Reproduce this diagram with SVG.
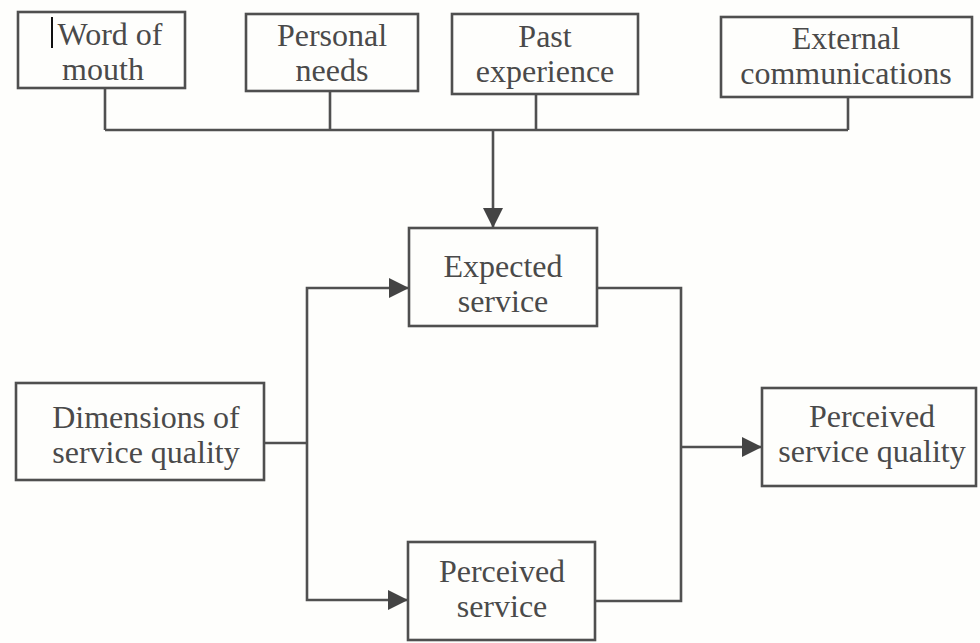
<svg xmlns="http://www.w3.org/2000/svg" width="980" height="643" viewBox="0 0 980 643">
  <defs>
    <style>
      .box { fill: #fefefc; stroke: #4f4f4f; stroke-width: 2.6; }
      .lbl { font-family: "Liberation Serif", "Times New Roman", serif; font-size: 32px; fill: #4a4a4a; text-anchor: middle; }
      .wire { fill: none; stroke: #505050; stroke-width: 2.6; }
    </style>
    <marker id="tip" viewBox="0 0 20 20" refX="20" refY="10" markerWidth="20" markerHeight="20" markerUnits="userSpaceOnUse" orient="auto">
      <path d="M0,0 L20,10 L0,20 Z" fill="#444"/>
    </marker>
  </defs>

  <rect width="980" height="643" fill="#fefefc"/>

  <!-- connectors -->
  <g id="connectors">
    <!-- the four input stems joined by a common bus -->
    <path class="wire" d="M105,88 V130 M330,91 V130 M536,94 V130 M848,97 V130 M105,130 H848"/>
    <path class="wire" d="M493,130 V228" marker-end="url(#tip)"/>
    <!-- dimensions splitting to expected and perceived service -->
    <path class="wire" d="M264,443 H307"/>
    <path class="wire" d="M307,443 V288 H409" marker-end="url(#tip)"/>
    <path class="wire" d="M307,443 V600 H408" marker-end="url(#tip)"/>
    <!-- expected and perceived service merging into perceived quality -->
    <path class="wire" d="M597,288 H681 V601 H595"/>
    <path class="wire" d="M681,447 H762" marker-end="url(#tip)"/>
  </g>

  <g id="word-of-mouth">
    <rect class="box" x="18" y="12" width="167" height="76"/>
    <line x1="52" y1="17" x2="52" y2="48" stroke="#111" stroke-width="2"/>
    <text class="lbl" x="110" y="45">Word of</text>
    <text class="lbl" x="103" y="80">mouth</text>
  </g>

  <g id="personal-needs">
    <rect class="box" x="246" y="14" width="172" height="77"/>
    <text class="lbl" x="332" y="46">Personal</text>
    <text class="lbl" x="332" y="81">needs</text>
  </g>

  <g id="past-experience">
    <rect class="box" x="452" y="14" width="186" height="80"/>
    <text class="lbl" x="545" y="47">Past</text>
    <text class="lbl" x="545" y="82">experience</text>
  </g>

  <g id="external-communications">
    <rect class="box" x="721" y="17" width="251" height="80"/>
    <text class="lbl" x="846" y="49">External</text>
    <text class="lbl" x="846" y="84">communications</text>
  </g>

  <g id="expected-service">
    <rect class="box" x="409" y="228" width="188" height="98"/>
    <text class="lbl" x="503" y="277">Expected</text>
    <text class="lbl" x="503" y="312">service</text>
  </g>

  <g id="dimensions">
    <rect class="box" x="16" y="383" width="248" height="97"/>
    <text class="lbl" x="146" y="428">Dimensions of</text>
    <text class="lbl" x="146" y="463">service quality</text>
  </g>

  <g id="perceived-service-quality">
    <rect class="box" x="762" y="388" width="214" height="98"/>
    <text class="lbl" x="872" y="427">Perceived</text>
    <text class="lbl" x="872" y="462">service quality</text>
  </g>

  <g id="perceived-service">
    <rect class="box" x="408" y="542" width="187" height="98"/>
    <text class="lbl" x="502" y="582">Perceived</text>
    <text class="lbl" x="502" y="617">service</text>
  </g>
</svg>
